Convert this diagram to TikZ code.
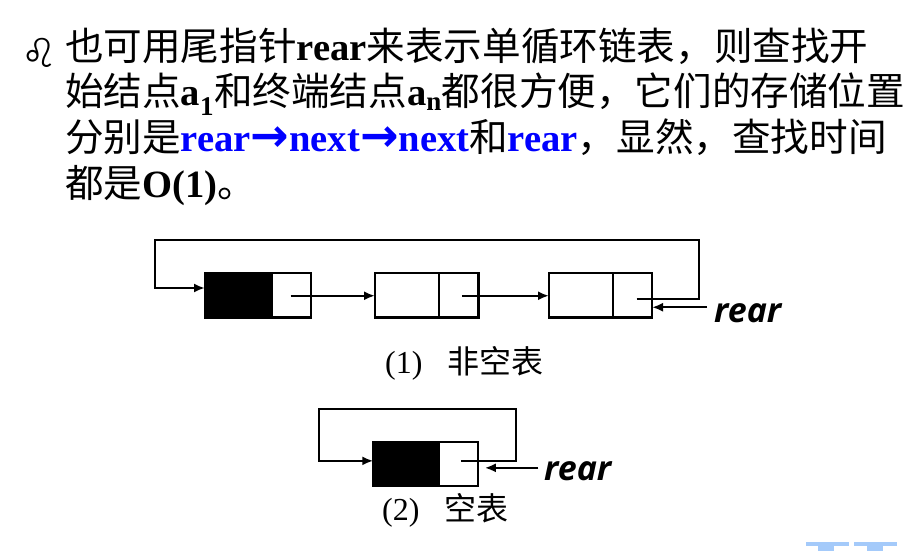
\documentclass[tikz,border=0pt]{standalone}
\usepackage{fontspec}
\setmainfont{Liberation Serif}
\newfontfamily\cjk{Noto Sans CJK SC}
\newfontfamily\symf{DejaVu Sans}
\newfontfamily\rearf{Open Sans}
\usetikzlibrary{calc,arrows.meta}
\definecolor{refblue}{RGB}{0,0,255}
\definecolor{barblue}{RGB}{164,202,250}
\newcommand{\bluearr}{{\symf\bfseries\fontsize{46}{46}\selectfont →}}
\begin{document}
\begin{tikzpicture}[x=1pt,y=-1pt,
  txt/.style={anchor=base west,inner sep=0pt,outer sep=0pt,font=\fontsize{38.6}{46}\selectfont},
  cell/.style={draw,line width=2.2pt,inner sep=0pt,outer sep=0pt,anchor=north west,minimum height=44.5pt},
  blk/.style={cell,fill=black},
  link/.style={line width=2.2pt,-{Latex[length=11pt,width=9pt]}},
  reartxt/.style={anchor=base west,inner sep=0pt,font=\rearf\bfseries\itshape\fontsize{34}{40}\selectfont},
  captxt/.style={anchor=base west,inner sep=0pt,font=\fontsize{32}{38}\selectfont}
]
\useasboundingbox (0,0) rectangle (921,551);

% bullet and text
\node[inner sep=0pt,font=\symf\fontsize{40}{44}\selectfont] (bul) at (39.5,53) {♌};
\node[txt] (l1) at (65,60) {{\cjk 也可用尾指针}\textbf{rear}{\cjk 来表示单循环链表，则查找开}};
\node[txt] (l2) at (65,106) {{\cjk 始结点}\textbf{a\textsubscript{1}}{\cjk 和终端结点}\textbf{a\textsubscript{n}}{\cjk 都很方便，它们的存储位置}};
\node[txt] (l3) at (65,151.5) {{\cjk 分别是}\textcolor{refblue}{\textbf{rear}\bluearr\textbf{next}\bluearr\textbf{next}}{\cjk 和}\textcolor{refblue}{\textbf{rear}}{\cjk ，显然，查找时间}};
\node[txt] (l4) at (65,197) {{\cjk 都是}\textbf{O(1)}{\cjk 。}};

% non-empty list
\node[blk,minimum width=67pt] (n1d) at (205,273) {};
\node[cell,minimum width=39pt] (n1p) at (272,273) {};
\node[cell,minimum width=64pt] (n2d) at (375,273) {};
\node[cell,minimum width=39.5pt] (n2p) at (439,273) {};
\node[cell,minimum width=64pt] (n3d) at (549,273) {};
\node[cell,minimum width=39pt] (n3p) at (613,273) {};

\coordinate (s1) at ($(n1p.center)+(-1,0.5)$);
\coordinate (s2) at ($(n2p.center)+(3,0.5)$);
\coordinate (s3) at ($(n3p.center)+(4,4)$);
\coordinate (loopR) at (699,240);
\coordinate (loopL) at (155,240);
\coordinate (in1) at ($(n1d.west)+(0,-7.25)$);
\draw[link] (s1) -- (s1 -| n2d.west);
\draw[link] (s2) -- (s2 -| n3d.west);
\draw[link] (s3) -| (loopR) -- (loopL) |- (in1);

\node[reartxt] (rear1) at (714,322) {rear};
\coordinate (r1s) at ($(n3p.east)+(55,12)$);
\draw[link] (r1s) -- (r1s -| n3p.east);

\node[captxt] (cap1) at (385,373) {(1)\hspace{25pt}{\cjk 非空表}};

% empty list
\node[blk,minimum width=66pt,minimum height=44.3pt] (ed) at (373.3,441.7) {};
\node[cell,minimum width=39pt,minimum height=44.3pt] (ep) at (439.3,441.7) {};
\coordinate (se) at ($(ep.center)+(2,-3)$);
\coordinate (loop2R) at (515.7,409);
\coordinate (loop2L) at (319,409);
\coordinate (ine) at ($(ed.west)+(0,-3)$);
\draw[link] (se) -| (loop2R) -- (loop2L) |- (ine);

\node[reartxt] (rear2) at (544,480) {rear};
\coordinate (r2s) at ($(ep.east)+(60,4)$);
\coordinate (r2t) at ($(ep.east)+(6.5,4)$);
\draw[link] (r2s) -- (r2t);

\node[captxt] (cap2) at (382,520) {(2)\hspace{25pt}{\cjk 空表}};

% light blue fragments at the bottom right
\fill[barblue] (805.7,542.3) rectangle (849.3,545.7);
\fill[barblue] (818.3,545.7) rectangle (834,551);
\fill[barblue] (854.3,542.3) rectangle (897,545.7);
\fill[barblue] (866.7,545.7) rectangle (883.3,551);
\end{tikzpicture}
\end{document}
